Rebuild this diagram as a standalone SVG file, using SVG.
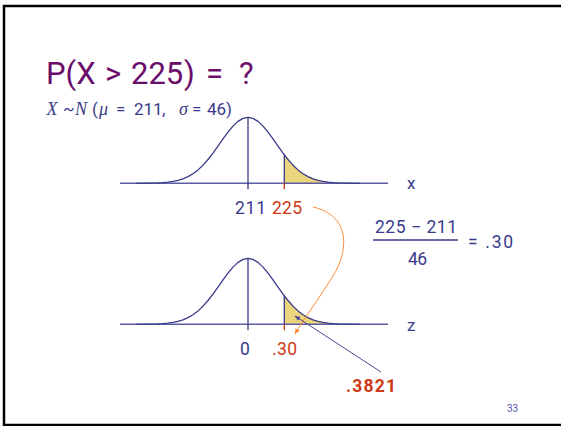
<svg xmlns="http://www.w3.org/2000/svg" width="561" height="426" viewBox="0 0 561 426">
<style>
.t{font-family:Roboto,"Liberation Sans",sans-serif;fill:#3a3a8a}
.r{font-family:Roboto,"Liberation Sans",sans-serif;fill:#cc3a14}
.i{font-family:"Liberation Serif",serif;font-style:italic;fill:#3a3a8a;font-size:18px}
.p{font-family:Roboto,"Liberation Sans",sans-serif;fill:#6b0d6b;font-size:31px}
.curve{fill:none;stroke:#3a3a8a;stroke-width:1.3;stroke-linejoin:round}
.axis{stroke:#5d5da5;stroke-width:1.5}
.shade{fill:#ead57c;stroke:none}
</style>
<defs>
<path id="bell" class="curve" d="M-112,0 L-100,-0.11 -90,-0.38 -85,-0.66 -80,-1.11 -75,-1.83 -70,-2.9 -65,-4.46 -60,-6.65 -55,-9.59 -50,-13.4 -45,-18.14 -40,-23.79 -35,-30.21 -30,-37.18 -25,-44.31 -20,-51.14 -15,-57.18 -10,-61.92 -5,-64.96 0,-66 5,-64.96 10,-61.92 15,-57.18 20,-51.14 25,-44.31 30,-37.18 35,-30.21 40,-23.79 45,-18.14 50,-13.4 55,-9.59 60,-6.65 65,-4.46 70,-2.9 75,-1.83 80,-1.11 85,-0.66 90,-0.38 100,-0.11 112,0"/>
<path id="tail" class="shade" d="M36.3,0 L36.3,-28.5 40,-23.79 45,-18.14 50,-13.4 55,-9.59 60,-6.65 65,-4.46 70,-2.9 75,-1.83 80,-1.11 85,-0.66 90,-0.38 100,-0.11 100,0 Z"/>
<marker id="ao" viewBox="0 0 10 10" refX="9" refY="5" markerWidth="6" markerHeight="6" orient="auto"><path d="M0,1 L10,5 L0,9 Z" fill="#ff8c3a"/></marker>
<marker id="ab" viewBox="0 0 10 10" refX="9" refY="5" markerWidth="6" markerHeight="6" orient="auto"><path d="M0,1 L10,5 L0,9 Z" fill="#4a4a95"/></marker>
</defs>
<rect x="4" y="6" width="570" height="419" fill="#fff" stroke="#000" stroke-width="2.5"/>
<g id="title">
<text y="84.3"><tspan class="p" x="46">P(X</tspan><tspan class="p" x="105">&gt;</tspan><tspan class="p" x="131">225</tspan><tspan class="p" x="184">)</tspan><tspan class="p" x="206">=</tspan><tspan class="p" x="239">?</tspan></text>
</g>
<g id="dist">
<text y="114.5" font-size="17"><tspan class="i" x="46.5">X</tspan><tspan class="t" x="63">~</tspan><tspan class="i" x="75">N</tspan><tspan class="t" x="92">(</tspan><tspan class="i" x="99">μ</tspan><tspan class="t" x="116">=</tspan><tspan class="t" x="134">211</tspan><tspan class="t" x="162">,</tspan><tspan class="i" x="179">σ</tspan><tspan class="t" x="192">=</tspan><tspan class="t" x="207">46)</tspan></text>
</g>
<g id="upper-curve" transform="translate(248,183.3)">
<use href="#tail"/>
<line class="axis" x1="-128" y1="0" x2="140" y2="0"/>
<use href="#bell"/>
<line x1="0" y1="-66" x2="0" y2="6" stroke="#3a3a8a" stroke-width="1.3"/>
<line x1="36.3" y1="-28.5" x2="36.3" y2="0" stroke="#3a3a8a" stroke-width="1.3"/>
<line x1="36.3" y1="0" x2="36.3" y2="6" stroke="#cc3a14" stroke-width="1.3"/>
</g>
<g id="x-label"><text class="t" x="407" y="189" font-size="17">x</text></g>
<g id="upper-values">
<text class="t" x="235" y="214" font-size="17.5" textLength="31" lengthAdjust="spacing">211</text>
<text class="r" x="272" y="214" font-size="17.5" textLength="30" lengthAdjust="spacing">225</text>
</g>
<g id="formula">
<text class="t" x="375" y="233" font-size="17.5" textLength="82" lengthAdjust="spacing">225 − 211</text>
<line x1="373" y1="240" x2="458" y2="240" stroke="#3a3a8a" stroke-width="1.5"/>
<text class="t" x="408" y="265" font-size="17.5" textLength="19" lengthAdjust="spacing">46</text>
<text class="t" x="468" y="248" font-size="17.5" textLength="45" lengthAdjust="spacing">= .30</text>
</g>
<g id="lower-curve" transform="translate(248,324.3)">
<use href="#tail"/>
<line class="axis" x1="-128" y1="0" x2="140" y2="0"/>
<use href="#bell"/>
<line x1="0" y1="-66" x2="0" y2="6" stroke="#3a3a8a" stroke-width="1.3"/>
<line x1="36.3" y1="-28.5" x2="36.3" y2="0" stroke="#3a3a8a" stroke-width="1.3"/>
<line x1="36.3" y1="0" x2="36.3" y2="6" stroke="#cc3a14" stroke-width="1.3"/>
</g>
<g id="z-label"><text class="t" x="407" y="331" font-size="17">z</text></g>
<g id="lower-values">
<text class="t" x="240" y="355" font-size="17.5">0</text>
<text class="r" x="272" y="355" font-size="17.5" textLength="25" lengthAdjust="spacing">.30</text>
</g>
<g id="prob"><text class="r" x="346" y="392" font-size="17.5" font-weight="bold" textLength="50" lengthAdjust="spacing">.3821</text></g>
<g id="connectors">
<path d="M313,207 C352,216 348,252 333,276 S303,320 295,334" fill="none" stroke="#ff8c3a" stroke-width="1" marker-end="url(#ao)"/>
<line x1="381" y1="372" x2="295" y2="316" stroke="#4a4a95" stroke-width="1" marker-end="url(#ab)"/>
</g>
<g id="page"><text class="t" x="507" y="412" font-size="10" style="fill:#5555aa">33</text></g>
</svg>
